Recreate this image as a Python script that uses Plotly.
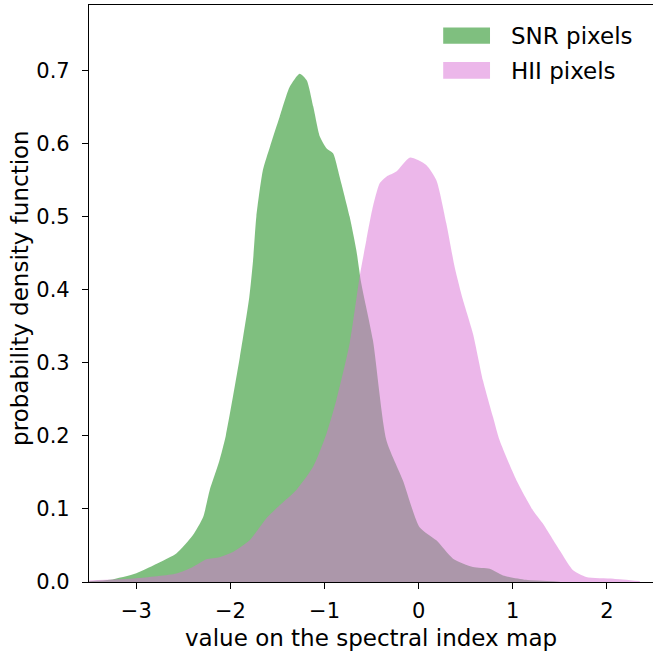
import plotly.graph_objects as go

# SNR pixels KDE
snr_x = [-3.5, -3.28, -3.0, -2.75, -2.575, -2.40, -2.29, -2.22, -2.12, -2.05, -1.90, -1.80, -1.76,
         -1.725, -1.655, -1.58, -1.477, -1.37, -1.265, -1.19, -1.12, -1.05, -0.98, -0.91, -0.84,
         -0.733, -0.662, -0.61, -0.486, -0.343, -0.167, 0.01, 0.188, 0.365, 0.577, 0.755, 0.896,
         1.14, 1.5]
snr_y = [0.001, 0.003, 0.012, 0.027, 0.039, 0.064, 0.089, 0.126, 0.165, 0.20, 0.308, 0.39, 0.44,
         0.50, 0.564, 0.596, 0.637, 0.678, 0.696, 0.687, 0.651, 0.61, 0.594, 0.587, 0.555,
         0.50, 0.454, 0.409, 0.331, 0.194, 0.139, 0.075, 0.057, 0.032, 0.0205, 0.018, 0.009,
         0.003, 0.0005]

# HII pixels KDE
hii_x = [-3.5, -3.0, -2.575, -2.40, -2.256, -2.115, -1.973, -1.796, -1.62, -1.477, -1.30, -1.12,
         -0.98, -0.875, -0.733, -0.627, -0.556, -0.486, -0.414, -0.343, -0.237, -0.096, 0.08,
         0.188, 0.294, 0.383, 0.471, 0.577, 0.683, 0.79, 0.86, 1.04, 1.215, 1.32, 1.5, 1.64,
         1.78, 2.07, 2.35]
hii_y = [0.002, 0.005, 0.0115, 0.0205, 0.031, 0.034, 0.041, 0.057, 0.087, 0.105, 0.126, 0.158,
         0.203, 0.249, 0.327, 0.418, 0.468, 0.514, 0.546, 0.555, 0.562, 0.581, 0.571,
         0.550, 0.491, 0.431, 0.386, 0.340, 0.276, 0.226, 0.194, 0.139, 0.098, 0.08, 0.043, 0.016,
         0.007, 0.0046, 0.0014]

x_ticks = [-3, -2, -1, 0, 1, 2]
y_ticks = [0.0, 0.1, 0.2, 0.3, 0.4, 0.5, 0.6, 0.7]
series_names = ["SNR pixels", "HII pixels"]
x_label = "value on the spectral index map"
y_label = "probability density function"

green = "rgba(0,128,0,0.5)"
orchid = "rgba(218,112,214,0.5)"
FONT = "DejaVu Sans"

fig = go.Figure()
fig.add_trace(go.Scatter(x=snr_x, y=snr_y, mode="lines", fill="tozeroy", fillcolor=green,
                         line=dict(width=0, shape="spline", smoothing=0.6), name=series_names[0],
                         showlegend=False, hoverinfo="skip"))
fig.add_trace(go.Scatter(x=hii_x, y=hii_y, mode="lines", fill="tozeroy", fillcolor=orchid,
                         line=dict(width=0, shape="spline", smoothing=0.6), name=series_names[1],
                         showlegend=False, hoverinfo="skip"))

# custom legend (patches + text)
legend_items = [(series_names[0], green, 0.933, 0.961, 0.946),
                (series_names[1], orchid, 0.872, 0.901, 0.886)]
for name, col, y0, y1, ym in legend_items:
    fig.add_shape(type="rect", xref="paper", yref="paper", x0=0.628, x1=0.711, y0=y0, y1=y1,
                  fillcolor=col, line=dict(width=0))
    fig.add_annotation(text=name, xref="paper", yref="paper", x=0.745, y=ym, xanchor="left",
                       yanchor="middle", showarrow=False, font=dict(family=FONT, size=23, color="black"))

fig.add_annotation(text=x_label, xref="paper", yref="paper", x=0.5, y=-0.097, xanchor="center",
                   yanchor="middle", showarrow=False, font=dict(family=FONT, size=23, color="black"))
fig.add_annotation(text=y_label, xref="paper", yref="paper", x=-0.122, y=0.51, xanchor="center",
                   yanchor="middle", textangle=-90, showarrow=False,
                   font=dict(family=FONT, size=23, color="black"))

fig.update_xaxes(range=[-3.503, 2.49], tickvals=x_ticks, ticks="outside", ticklen=6, tickwidth=1.2,
                 tickcolor="black", showline=True, linecolor="black", linewidth=1.2, mirror=True,
                 showgrid=False, zeroline=False, tickfont=dict(family=FONT, size=21, color="black"),
                 ticklabelstandoff=4, automargin=False)
fig.update_yaxes(range=[0, 0.79], tickvals=y_ticks, tickformat=".1f", ticks="outside", ticklen=6,
                 tickwidth=1.2, tickcolor="black", showline=True, linecolor="black", linewidth=1.2,
                 showgrid=False, zeroline=False, tickfont=dict(family=FONT, size=21, color="black"),
                 ticklabelstandoff=8, automargin=False)

fig.update_layout(width=653, height=652, margin=dict(l=89, r=0, t=5, b=70, autoexpand=False),
                  plot_bgcolor="white", paper_bgcolor="white", font=dict(family=FONT))

fig.write_html("out.html", config={"displayModeBar": False},
               post_script="document.body.style.margin='0';")
